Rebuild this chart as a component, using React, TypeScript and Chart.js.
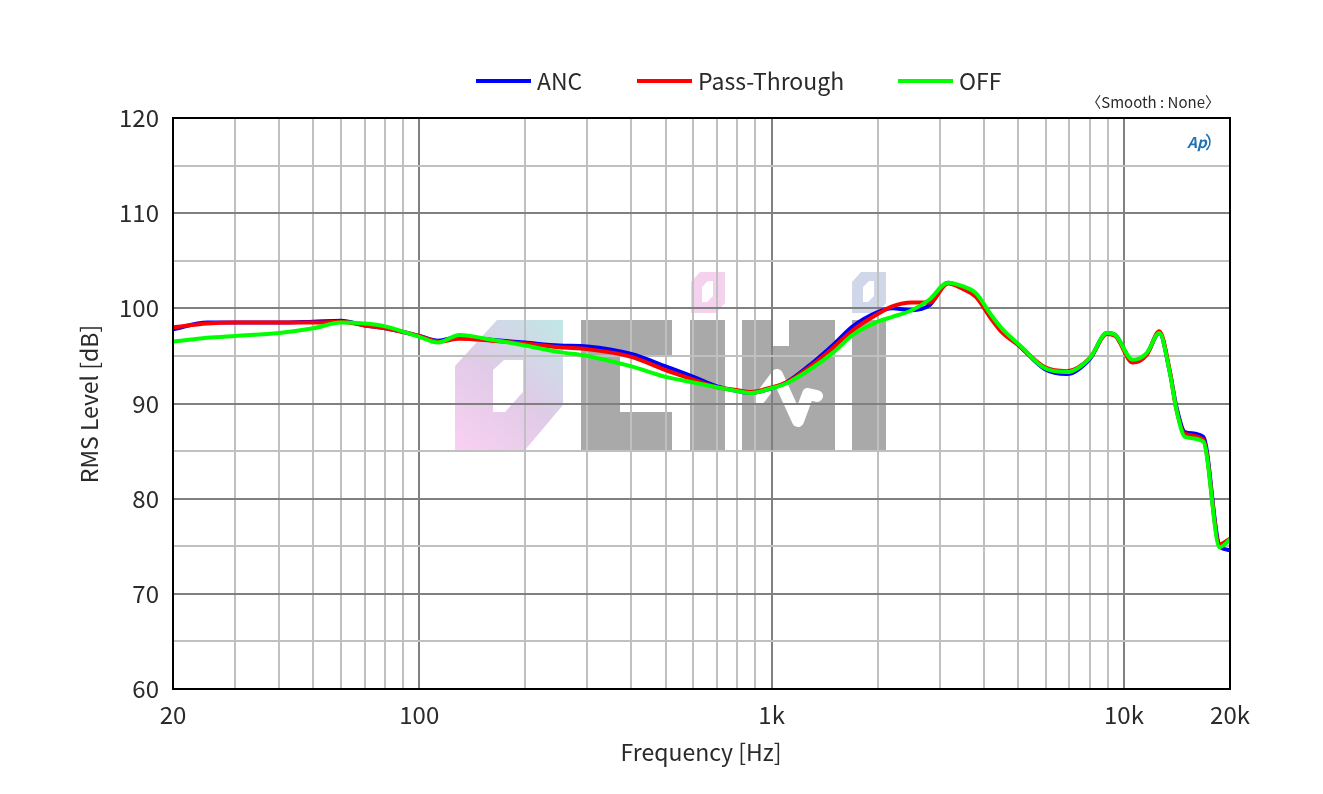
import { useEffect, useRef } from 'react'
import { Chart, registerables } from 'chart.js'

Chart.register(...registerables)

// frequency points (Hz) shared by all three curves
const FREQ = [
  20, 25, 30, 40, 50, 60, 70, 80, 100, 113, 130, 160, 200, 250, 300, 400, 500, 600, 700, 800,
  870, 1000, 1100, 1300, 1500, 1700, 2000, 2200, 2500, 2800, 3170, 3500, 3800, 4200, 4500,
  5070, 5970, 6890, 8010, 8950, 9440, 10600, 11600, 12600, 13500, 14100, 14900, 16800, 18700,
  20000,
]

const ANC = [
  97.8, 98.5, 98.5, 98.5, 98.6, 98.7, 98.2, 97.9, 97.1, 96.6, 97.0, 96.7, 96.4, 96.1, 96.0,
  95.2, 93.9, 92.8, 91.8, 91.3, 91.1, 91.6, 92.2, 94.2, 96.2, 98.1, 99.6, 100.0, 99.8, 100.3,
  102.7, 102.1, 101.4, 99.1, 97.7, 96.0, 93.6, 93.1, 94.7, 97.4, 97.2, 94.5, 95.2, 97.4, 93.3,
  89.6, 87.0, 86.5, 75.0, 74.6,
]

const PASS_THROUGH = [
  98.0, 98.4, 98.5, 98.5, 98.5, 98.6, 98.2, 97.9, 97.1, 96.5, 96.8, 96.6, 96.3, 95.9, 95.7,
  94.9, 93.5, 92.5, 91.7, 91.4, 91.2, 91.7, 92.2, 94.0, 95.9, 97.7, 99.4, 100.2, 100.6, 100.6,
  102.6, 102.0, 101.2, 98.9, 97.5, 96.0, 93.8, 93.4, 94.8, 97.3, 97.1, 94.3, 95.1, 97.6, 93.4,
  89.3, 86.8, 86.2, 75.2, 75.8,
]

const OFF = [
  96.5, 96.9, 97.1, 97.4, 97.9, 98.5, 98.4, 98.1, 97.0, 96.4, 97.2, 96.7, 96.1, 95.4, 95.0,
  93.9, 92.8, 92.2, 91.7, 91.3, 91.1, 91.6, 92.1, 93.7, 95.4, 97.2, 98.6, 99.1, 99.8, 100.9,
  102.7, 102.3, 101.6, 99.3, 97.9, 96.1, 93.7, 93.3, 94.8, 97.4, 97.2, 94.6, 95.3, 97.4, 93.2,
  89.3, 86.5, 86.0, 74.9, 75.7,
]

const SERIES = [
  { label: 'ANC', values: ANC, color: '#0000ff' },
  { label: 'Pass-Through', values: PASS_THROUGH, color: '#ff0000' },
  { label: 'OFF', values: OFF, color: '#00ff00' },
]

// grid lines on the frequency axis
const X_TICKS = [
  20, 30, 40, 50, 60, 70, 80, 90, 100, 200, 300, 400, 500, 600, 700, 800, 900, 1000, 2000,
  3000, 4000, 5000, 6000, 7000, 8000, 9000, 10000, 20000,
]
const X_LABELS: Record<number, string> = { 20: '20', 100: '100', 1000: '1k', 10000: '10k', 20000: '20k' }

// legend item start positions
const LEGEND_X = [476, 637, 898]

const FONT = "'Noto Sans CJK KR', 'Noto Sans', sans-serif"
const TEXT = '#2a2a2a'

const isDecade = (v: number) => Math.abs(Math.log10(v) - Math.round(Math.log10(v))) < 1e-9

// watermark logo behind the grid
const watermarkPlugin = {
  id: 'watermark',
  beforeDraw(chart: any) {
    const ctx = chart.ctx
    ctx.save()
    // colourful block
    const g = ctx.createLinearGradient(455, 450, 563, 320)
    g.addColorStop(0, 'rgba(250,200,240,0.85)')
    g.addColorStop(0.5, 'rgba(215,190,225,0.8)')
    g.addColorStop(1, 'rgba(185,230,228,0.9)')
    ctx.fillStyle = g
    ctx.beginPath()
    ctx.moveTo(455, 366)
    ctx.lineTo(497, 320)
    ctx.lineTo(563, 320)
    ctx.lineTo(563, 405)
    ctx.lineTo(525, 450)
    ctx.lineTo(455, 450)
    ctx.closePath()
    ctx.fill()
    ctx.fillStyle = '#ffffff'
    ctx.beginPath()
    ctx.moveTo(493, 370)
    ctx.lineTo(504, 360)
    ctx.lineTo(523, 360)
    ctx.lineTo(523, 392)
    ctx.lineTo(505, 412)
    ctx.lineTo(493, 412)
    ctx.closePath()
    ctx.fill()

    ctx.fillStyle = '#a9a9a9'
    // C
    ctx.beginPath()
    ctx.moveTo(581, 320)
    ctx.lineTo(672, 320)
    ctx.lineTo(672, 357)
    ctx.lineTo(620, 357)
    ctx.lineTo(620, 412)
    ctx.lineTo(672, 412)
    ctx.lineTo(672, 450)
    ctx.lineTo(581, 450)
    ctx.closePath()
    ctx.fill()
    // i
    ctx.fillRect(690, 320, 35, 130)
    // N
    ctx.beginPath()
    ctx.moveTo(742, 320)
    ctx.lineTo(773, 320)
    ctx.lineTo(773, 346)
    ctx.lineTo(789, 346)
    ctx.lineTo(789, 320)
    ctx.lineTo(835, 320)
    ctx.lineTo(835, 450)
    ctx.lineTo(742, 450)
    ctx.closePath()
    ctx.fill()
    // I
    ctx.fillRect(852, 320, 34, 130)

    // heartbeat squiggle
    ctx.strokeStyle = '#ffffff'
    ctx.lineWidth = 12
    ctx.lineCap = 'round'
    ctx.lineJoin = 'round'
    ctx.beginPath()
    ctx.moveTo(760, 398)
    ctx.lineTo(777, 375)
    ctx.lineTo(798, 421)
    ctx.lineTo(808, 394)
    ctx.lineTo(817, 396)
    ctx.stroke()

    // dots
    const dot = (x: number, color: string) => {
      ctx.fillStyle = color
      ctx.beginPath()
      ctx.moveTo(x, 282)
      ctx.lineTo(x + 9, 272)
      ctx.lineTo(x + 34, 272)
      ctx.lineTo(x + 34, 303)
      ctx.lineTo(x + 25, 313)
      ctx.lineTo(x, 313)
      ctx.closePath()
      ctx.fill()
      ctx.fillStyle = '#ffffff'
      ctx.beginPath()
      ctx.moveTo(x + 11, 287)
      ctx.lineTo(x + 17, 281)
      ctx.lineTo(x + 22, 281)
      ctx.lineTo(x + 22, 296)
      ctx.lineTo(x + 16, 302)
      ctx.lineTo(x + 11, 302)
      ctx.closePath()
      ctx.fill()
    }
    dot(691, 'rgba(240,195,232,0.75)')
    dot(852, 'rgba(195,205,228,0.8)')
    ctx.restore()
  },
}

// border, legend, notes and axis titles
const decorPlugin = {
  id: 'decor',
  afterDraw(chart: any) {
    const ctx = chart.ctx
    const a = chart.chartArea
    ctx.save()
    ctx.strokeStyle = '#000000'
    ctx.lineWidth = 2
    ctx.strokeRect(a.left, a.top, a.right - a.left, a.bottom - a.top)

    // legend
    ctx.font = `23px ${FONT}`
    ctx.textBaseline = 'middle'
    ctx.textAlign = 'left'
    chart.data.datasets.forEach((ds: any, i: number) => {
      const x = LEGEND_X[i]
      ctx.strokeStyle = ds.borderColor
      ctx.lineWidth = 4
      ctx.beginPath()
      ctx.moveTo(x, 81)
      ctx.lineTo(x + 55, 81)
      ctx.stroke()
      ctx.fillStyle = TEXT
      ctx.fillText(ds.label, x + 61, 81)
    })

    ctx.font = `15px ${FONT}`
    ctx.textAlign = 'right'
    ctx.fillStyle = TEXT
    ctx.fillText('〈Smooth : None〉', 1220, 102)

    ctx.font = `italic bold 15px ${FONT}`
    ctx.textAlign = 'center'
    ctx.fillStyle = '#1b72b5'
    ctx.fillText('Ap', 1197, 142)
    ctx.strokeStyle = '#1b72b5'
    ctx.lineWidth = 1.5
    ctx.beginPath()
    ctx.arc(1200, 142, 10, -0.9, 0.9)
    ctx.stroke()

    // axis titles
    ctx.font = `23px ${FONT}`
    ctx.fillStyle = TEXT
    ctx.textAlign = 'center'
    ctx.fillText('Frequency [Hz]', 701, 752)
    ctx.translate(89, 404)
    ctx.rotate(-Math.PI / 2)
    ctx.fillText('RMS Level [dB]', 0, 0)
    ctx.restore()
  },
}

export default function App() {
  const chartRef = useRef<HTMLCanvasElement>(null)
  const chartInstance = useRef<Chart | null>(null)

  useEffect(() => {
    if (!chartRef.current) return
    if (chartInstance.current) chartInstance.current.destroy()

    const config = {
      type: 'line',
      data: {
        datasets: SERIES.map((s, i) => ({
          label: s.label,
          data: FREQ.map((f, j) => ({ x: f, y: s.values[j] })),
          borderColor: s.color,
          backgroundColor: s.color,
          borderWidth: 4,
          pointRadius: 0,
          cubicInterpolationMode: 'monotone',
          borderJoinStyle: 'round',
          order: SERIES.length - i, // OFF drawn on top
        })),
      },
      options: {
        responsive: true,
        maintainAspectRatio: false,
        animation: false,
        layout: { padding: { top: 118, right: 93, left: 0, bottom: 0 } },
        plugins: {
          legend: { display: false },
          tooltip: { enabled: false },
        },
        scales: {
          x: {
            type: 'logarithmic',
            min: 20,
            max: 20000,
            afterBuildTicks: (scale: any) => {
              scale.ticks = X_TICKS.map((v) => ({ value: v }))
            },
            afterFit: (scale: any) => {
              scale.height = 105
            },
            grid: {
              drawTicks: false,
              lineWidth: 2,
              color: (c: any) => (c.tick && isDecade(c.tick.value) ? '#808080' : '#c0c0c0'),
            },
            border: { display: false },
            ticks: {
              autoSkip: false,
              maxRotation: 0,
              padding: 11,
              color: TEXT,
              font: { family: FONT, size: 24 },
              callback: (v: any) => X_LABELS[Number(v)] ?? '',
            },
          },
          y: {
            min: 60,
            max: 120,
            afterFit: (scale: any) => {
              scale.width = 173
            },
            grid: {
              drawTicks: false,
              lineWidth: 2,
              color: (c: any) => (c.tick && c.tick.value % 10 === 0 ? '#808080' : '#c0c0c0'),
            },
            border: { display: false },
            ticks: {
              stepSize: 5,
              padding: 14,
              color: TEXT,
              font: { family: FONT, size: 24 },
              callback: (v: any) => (Number(v) % 10 === 0 ? String(v) : ''),
            },
          },
        },
      },
      plugins: [watermarkPlugin, decorPlugin],
    }

    chartInstance.current = new Chart(chartRef.current, config as any)

    return () => {
      if (chartInstance.current) {
        chartInstance.current.destroy()
        chartInstance.current = null
      }
    }
  }, [])

  return (
    <div
      style={{
        position: 'fixed',
        left: 0,
        top: 0,
        width: 1323,
        height: 794,
        background: '#ffffff',
      }}
    >
      <canvas ref={chartRef} />
    </div>
  )
}
